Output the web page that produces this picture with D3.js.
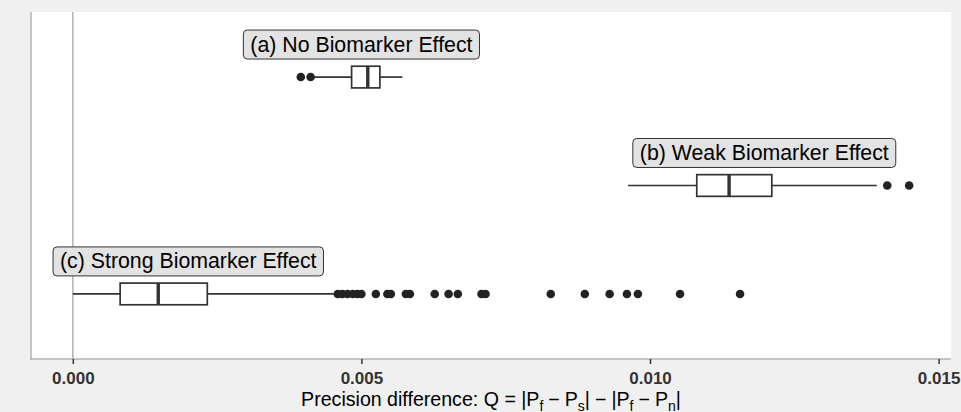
<!DOCTYPE html>
<html>
<head>
<meta charset="utf-8">
<script src="https://cdn.jsdelivr.net/npm/d3@7/dist/d3.min.js"></script>
<style>
html,body{margin:0;padding:0;background:#f0f0f0;}
svg{display:block;font-family:"Liberation Sans",Arial,sans-serif;}
</style>
</head>
<body>
<svg id="chart" width="961" height="412"></svg>
<script>
// ---- data ----
const groups = ["(a) No Biomarker Effect", "(b) Weak Biomarker Effect", "(c) Strong Biomarker Effect"];
const whiskerLow  = [0.00418, 0.00962, 0.00000];
const q1          = [0.00483, 0.01081, 0.00082];
const median      = [0.00511, 0.01137, 0.00148];
const q3          = [0.00532, 0.01211, 0.00233];
const whiskerHigh = [0.00571, 0.01393, 0.00452];
const outliersA = [0.00395, 0.00412];
const outliersB = [0.01411, 0.01449];
const outliersC = [0.00459, 0.00467, 0.00476, 0.00485, 0.00493, 0.00500, 0.00525, 0.00545, 0.00551,
                   0.00577, 0.00584, 0.00627, 0.00651, 0.00667, 0.00708, 0.00715, 0.00828, 0.00887,
                   0.00930, 0.00960, 0.00979, 0.01052, 0.01156];
const outliers = [outliersA, outliersB, outliersC];
const labelX = [0.00500, 0.01198, 0.00200];
const xTicks = [0.000, 0.005, 0.010, 0.015];
const xTitle = "Precision difference: Q = ";

// ---- layout ----
const W = 961, H = 412;
const panel = {left: 31, right: 951, top: 12, bottom: 359};
const svg = d3.select("#chart");

const dataMin = d3.min([d3.min(whiskerLow), d3.min(outliersA), d3.min(outliersB), d3.min(outliersC)]);
const dataMax = d3.max([d3.max(whiskerHigh), d3.max(outliersA), d3.max(outliersB), d3.max(outliersC)]);
const pad = (dataMax - dataMin) * 0.05;
const x = d3.scaleLinear().domain([dataMin - pad, dataMax + pad]).range([panel.left, panel.right]);
const y = d3.scalePoint().domain(groups).range([panel.top, panel.bottom]).padding(0.6);
const unit = y.step();

svg.append("rect").attr("x", 0).attr("y", 0).attr("width", W).attr("height", H).attr("fill", "#f0f0f0");
svg.append("rect").attr("x", panel.left).attr("y", panel.top)
  .attr("width", panel.right - panel.left).attr("height", panel.bottom - panel.top).attr("fill", "#ffffff");

// zero line
svg.append("line").attr("x1", x(0)).attr("x2", x(0)).attr("y1", panel.top).attr("y2", panel.bottom)
  .attr("stroke", "#b3b3b3").attr("stroke-width", 1.5);

// axis lines
svg.append("line").attr("x1", panel.left).attr("x2", panel.left).attr("y1", panel.top).attr("y2", panel.bottom + 0.75)
  .attr("stroke", "#b3b3b3").attr("stroke-width", 1.5);
svg.append("line").attr("x1", panel.left - 0.75).attr("x2", panel.right).attr("y1", panel.bottom).attr("y2", panel.bottom)
  .attr("stroke", "#b3b3b3").attr("stroke-width", 1.5);

// x axis
const xAxis = d3.axisBottom(x).tickValues(xTicks).tickFormat(d3.format(".3f")).tickSize(5).tickPadding(8);
const gx = svg.append("g").attr("transform", `translate(0,${panel.bottom})`).call(xAxis);
gx.select(".domain").remove();
gx.selectAll(".tick line").attr("stroke", "#333").attr("stroke-width", 1.5);
gx.selectAll(".tick text").attr("fill", "#333").attr("font-size", 17).attr("font-weight", "bold")
  .attr("font-family", "'Liberation Sans', Arial, sans-serif");

// boxplots
const boxHalf = unit * 0.1;
groups.forEach((g, i) => {
  const cy = y(g);
  const grp = svg.append("g");
  grp.append("line").attr("x1", x(whiskerLow[i])).attr("x2", x(q1[i])).attr("y1", cy).attr("y2", cy)
    .attr("stroke", "#333").attr("stroke-width", 1.7);
  grp.append("line").attr("x1", x(q3[i])).attr("x2", x(whiskerHigh[i])).attr("y1", cy).attr("y2", cy)
    .attr("stroke", "#333").attr("stroke-width", 1.7);
  grp.append("rect").attr("x", x(q1[i])).attr("y", cy - boxHalf)
    .attr("width", x(q3[i]) - x(q1[i])).attr("height", 2 * boxHalf)
    .attr("fill", "#fff").attr("stroke", "#333").attr("stroke-width", 1.7);
  grp.append("line").attr("x1", x(median[i])).attr("x2", x(median[i]))
    .attr("y1", cy - boxHalf).attr("y2", cy + boxHalf)
    .attr("stroke", "#333").attr("stroke-width", 3.4);
  grp.selectAll("circle.out").data(outliers[i]).enter().append("circle")
    .attr("class", "out").attr("cx", d => x(d)).attr("cy", cy).attr("r", 4.3).attr("fill", "#222");
});

// labels
groups.forEach((g, i) => {
  const cy = y(g) - unit * 0.3;
  const lg = svg.append("g");
  const rect = lg.append("rect");
  const t = lg.append("text").attr("x", x(labelX[i])).attr("y", cy)
    .attr("text-anchor", "middle").attr("dominant-baseline", "central")
    .attr("font-size", 21.3).attr("fill", "#000").text(g);
  const w = t.node().getComputedTextLength();
  rect.attr("x", x(labelX[i]) - w / 2 - 7).attr("y", cy - 14.5).attr("width", w + 14).attr("height", 29)
    .attr("rx", 4).attr("ry", 4).attr("fill", "#e3e3e3").attr("stroke", "#333").attr("stroke-width", 1);
});

// x title with subscripts
const title = svg.append("text").attr("x", (panel.left + panel.right) / 2).attr("y", 406)
  .attr("text-anchor", "middle").attr("font-size", 19.6).attr("fill", "#000");
const parts = [
  [xTitle + "|P", 0, 0], ["f", 1, 0], ["\u2212", 0, 5], ["P", 0, 5], ["s", 1, 0], ["|", 0, 0],
  ["\u2212", 0, 5], ["|P", 0, 5], ["f", 1, 0], ["\u2212", 0, 5], ["P", 0, 5], ["n", 1, 0], ["|", 0, 0]
];
let prevSub = 0;
parts.forEach(([s, sub, dx]) => {
  const ts = title.append("tspan").text(s);
  const dy = (sub ? 4.5 : 0) - (prevSub ? 4.5 : 0);
  if (dy !== 0) ts.attr("dy", dy);
  if (dx) ts.attr("dx", dx);
  if (sub) ts.attr("font-size", 14);
  prevSub = sub;
});
</script>
</body>
</html>
